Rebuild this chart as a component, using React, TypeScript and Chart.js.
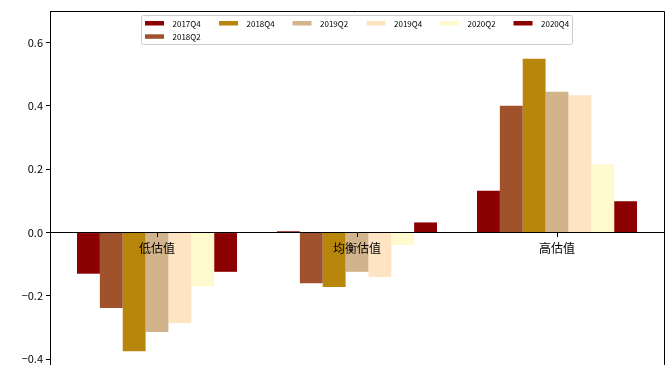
import React, { useEffect, useRef } from 'react';
import { Chart, registerables } from 'chart.js';

Chart.register(...registerables);

const categories = ['低估值', '均衡估值', '高估值'];
const seriesLabels = ['2017Q4', '2018Q2', '2018Q4', '2019Q2', '2019Q4', '2020Q2', '2020Q4'];
const s2017Q4 = [-0.13, 0.004, 0.132];
const s2018Q2 = [-0.238, -0.16, 0.401];
const s2018Q4 = [-0.375, -0.172, 0.549];
const s2019Q2 = [-0.314, -0.124, 0.445];
const s2019Q4 = [-0.286, -0.14, 0.434];
const s2020Q2 = [-0.17, -0.039, 0.215];
const s2020Q4 = [-0.124, 0.032, 0.099];
const seriesValues = [s2017Q4, s2018Q2, s2018Q4, s2019Q2, s2019Q4, s2020Q2, s2020Q4];
const seriesColors = ['#8B0000', '#A0522D', '#B8860B', '#D2B48C', '#FFE4C4', '#FFFACD', '#8B0000'];
const yTicks = [-0.4, -0.2, 0, 0.2, 0.4, 0.6];

const fmt = (v: number) => (v < -1e-9 ? '\u2212' : '') + Math.abs(v).toFixed(1);

const framePlugin = {
  id: 'frame',
  afterDraw(chart: any) {
    const { ctx, chartArea } = chart;
    ctx.save();
    ctx.strokeStyle = '#000';
    ctx.lineWidth = 1;
    ctx.beginPath();
    ctx.moveTo(chartArea.left, chartArea.top + 0.5);
    ctx.lineTo(chartArea.right + 0.5, chartArea.top + 0.5);
    ctx.lineTo(chartArea.right + 0.5, chartArea.bottom);
    ctx.stroke();

    // legend (matplotlib style, column-major, 6 columns)
    const bx = 141.5, by = 15.5, bw = 431, bh = 29, r = 2;
    ctx.beginPath();
    ctx.moveTo(bx + r, by);
    ctx.lineTo(bx + bw - r, by);
    ctx.quadraticCurveTo(bx + bw, by, bx + bw, by + r);
    ctx.lineTo(bx + bw, by + bh - r);
    ctx.quadraticCurveTo(bx + bw, by + bh, bx + bw - r, by + bh);
    ctx.lineTo(bx + r, by + bh);
    ctx.quadraticCurveTo(bx, by + bh, bx, by + bh - r);
    ctx.lineTo(bx, by + r);
    ctx.quadraticCurveTo(bx, by, bx + r, by);
    ctx.closePath();
    ctx.fillStyle = 'rgba(255,255,255,0.8)';
    ctx.fill();
    ctx.strokeStyle = '#cccccc';
    ctx.stroke();

    const colX = [145, 219, 292.5, 366.5, 440, 513.5];
    const rowY = [21, 34.3];
    const ncol = 6;
    const n = seriesLabels.length;
    const nrows = Math.floor(n / ncol);
    const nLarge = n % ncol;
    let idx = 0;
    ctx.font = '8px "Noto Sans CJK SC", "DejaVu Sans", sans-serif';
    ctx.textBaseline = 'middle';
    ctx.textAlign = 'left';
    for (let c = 0; c < ncol; c++) {
      const rows = c < nLarge ? nrows + 1 : nrows;
      for (let rr = 0; rr < rows; rr++) {
        if (idx >= n) break;
        const x = colX[c];
        const y = rowY[rr];
        ctx.fillStyle = seriesColors[idx];
        ctx.fillRect(x, y, 19, 4.5);
        ctx.fillStyle = '#000';
        ctx.fillText(seriesLabels[idx], x + 27.5, y + 2.5);
        idx++;
      }
    }
    ctx.restore();
  },
};

export default function App() {
  const ref = useRef<HTMLCanvasElement | null>(null);
  useEffect(() => {
    if (!ref.current) return;
    const chart = new Chart(ref.current, {
      type: 'bar',
      data: {
        datasets: seriesLabels.map((label, i) => ({
          label,
          data: seriesValues[i].map((y, x) => ({ x, y })),
          backgroundColor: seriesColors[i],
          borderWidth: 0,
          categoryPercentage: 0.8,
          barPercentage: 1.0,
        })),
      },
      options: {
        responsive: false,
        animation: false,
        layout: { padding: { top: 11, right: 6, bottom: 1, left: 0 } },
        plugins: {
          legend: { display: false },
          tooltip: { enabled: false },
        },
        scales: {
          x: {
            type: 'linear',
            min: -0.535,
            max: 2.535,
            offset: false,
            position: { y: 0 } as any,
            afterBuildTicks: (scale: any) => {
              scale.ticks = categories.map((_, i) => ({ value: i }));
            },
            afterFit: (scale: any) => {
              scale.height = 0;
              scale.paddingLeft = 0;
              scale.paddingRight = 0;
              scale.paddingTop = 0;
              scale.paddingBottom = 0;
            },
            grid: {
              display: true,
              offset: false,
              drawOnChartArea: false,
              drawTicks: true,
              tickLength: 4,
              tickColor: '#000',
              z: 1,
            },
            border: { display: true, color: '#000', width: 1, z: 1 },
            ticks: {
              autoSkip: false,
              maxRotation: 0,
              padding: 5,
              color: '#000',
              z: 1,
              font: { family: '"Noto Sans CJK SC", sans-serif', size: 12 },
              callback: (v: any) => categories[Math.round(Number(v))] ?? '',
            },
          },
          y: {
            type: 'linear',
            min: -0.45,
            max: 0.7,
            afterBuildTicks: (scale: any) => {
              scale.ticks = yTicks.map((v) => ({ value: v }));
            },
            afterFit: (scale: any) => {
              scale.width = 50;
              scale.paddingTop = 0;
              scale.paddingBottom = 0;
              scale.paddingLeft = 0;
              scale.paddingRight = 0;
            },
            grid: {
              display: true,
              drawOnChartArea: false,
              drawTicks: true,
              tickLength: 4,
              tickColor: '#000',
            },
            border: { display: true, color: '#000', width: 1 },
            ticks: {
              padding: 3,
              color: '#000',
              font: { family: '"Noto Sans CJK SC", sans-serif', size: 11 },
              callback: (v: any) => fmt(Number(v)),
            },
          },
        },
      },
      plugins: [framePlugin],
    });
    return () => chart.destroy();
  }, []);
  return (
    <div style={{ position: 'absolute', left: 0, top: 0, width: 670, height: 365, overflow: 'hidden', background: '#fff' }}>
      <canvas ref={ref} width={670} height={376} style={{ display: 'block' }} />
    </div>
  );
}
